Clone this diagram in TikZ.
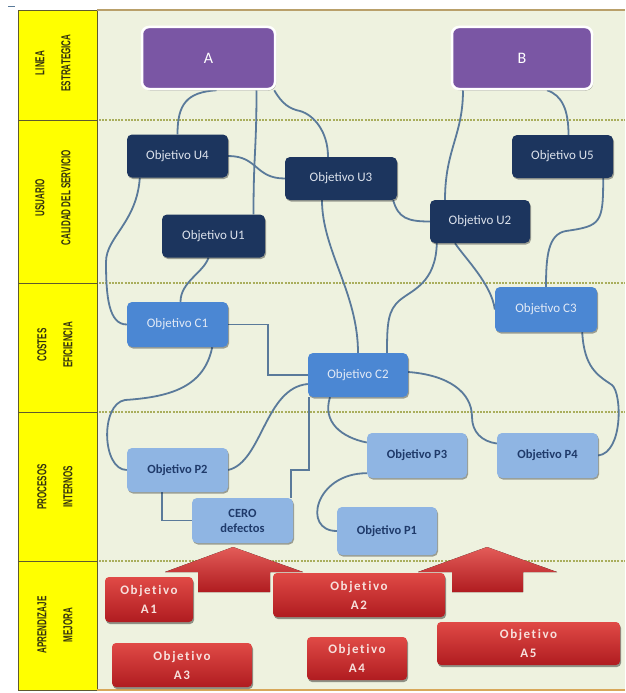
\documentclass[tikz,border=0pt]{standalone}
\usepackage{graphicx}
\usepackage{fontspec}
\setmainfont{Carlito}
\newfontfamily\lblfont{Liberation Sans}
\newfontfamily\redfont[LetterSpace=12,RawFeature=-liga]{Carlito}
\usetikzlibrary{calc,shadows}

\definecolor{mainbg}{HTML}{EEF2DF}
\definecolor{yellowc}{HTML}{FFFF00}
\definecolor{colline}{HTML}{5E5A2E}
\definecolor{dashc}{HTML}{A9AE5C}
\definecolor{topline}{HTML}{B9A06A}
\definecolor{botline}{HTML}{D8A85A}
\definecolor{linkc}{HTML}{5A7A9A}
\definecolor{purplec}{HTML}{7A56A4}
\definecolor{navy}{HTML}{1C355E}
\definecolor{navytext}{HTML}{DCE2EC}
\definecolor{midblue}{HTML}{4B87D3}
\definecolor{midtext}{HTML}{E2EAF6}
\definecolor{lightblue}{HTML}{8FB5E3}
\definecolor{ptext}{HTML}{1F3A6A}
\definecolor{redtop}{HTML}{E04A46}
\definecolor{redbot}{HTML}{B01C20}
\definecolor{redtext}{HTML}{F7E0DC}
\definecolor{lbltext}{HTML}{34330F}

\newcommand\cnd[1]{\scalebox{0.62}[1]{#1}}

\pgfdeclarelayer{background}
\pgfdeclarelayer{links}
\pgfsetlayers{background,links,main}

\begin{document}
\begin{tikzpicture}[x=1pt,y=-1pt,
  box/.style={rounded corners=5pt, minimum width=101pt, minimum height=43pt,
    inner sep=2pt, align=center, font=\fontsize{13}{15}\selectfont,
    drop shadow={shadow xshift=1pt, shadow yshift=-1.5pt, opacity=0.35, fill=black}},
  ubox/.style={box, fill=navy, text=navytext},
  cbox/.style={box, fill=midblue, text=midtext},
  pbox/.style={box, fill=lightblue, text=ptext, font=\fontsize{12.5}{15}\selectfont\bfseries},
  goalbox/.style={rounded corners=7pt, fill=purplec, draw=white, line width=2.5pt,
    minimum height=62pt, text=white, font=\fontsize{16}{18}\selectfont,
    drop shadow={shadow xshift=1pt, shadow yshift=-1.5pt, opacity=0.3, fill=black}},
  redbox/.style={rounded corners=4pt, top color=redtop, bottom color=redbot,
    minimum height=44pt, inner sep=2pt, align=center, text=redtext,
    font=\redfont\bfseries\fontsize{13}{19}\selectfont,
    drop shadow={shadow xshift=1pt, shadow yshift=-2pt, opacity=0.4, fill=black}},
  redarrow/.style={top color=redtop!90!white, bottom color=redbot},
  lbl/.style={rotate=90, align=center, text=lbltext,
    font=\lblfont\bfseries\fontsize{13}{26}\selectfont},
  link/.style={draw=linkc, line width=1.8pt},
  divider/.style={draw=dashc, line width=1.3pt, dash pattern=on 2pt off 1.2pt},
  coldiv/.style={draw=colline, line width=0.9pt}
]
\useasboundingbox (0,0) rectangle (625,693);

% ---------- backdrop: lanes and label column ----------
\begin{pgfonlayer}{background}
  \fill[white] (0,0) rectangle (625,693);
  \fill[mainbg] (97,10) rectangle (625,690);
  \fill[yellowc] (18,10) rectangle (97,690);
  \draw[coldiv] (18,10) rectangle (97,690);
  \foreach \yy in {120,283,412,561} {
    \draw[coldiv] (18,\yy) -- (97,\yy);
    \draw[divider] (99,\yy) -- (625,\yy);
  }
  \draw[topline, line width=2pt] (97,10) -- (625,10);
  \draw[botline, line width=2pt] (97,690) -- (625,690);
  \draw[linkc, line width=1pt] (8,7) -- (15,7);
\end{pgfonlayer}

% ---------- lane titles ----------
\node[lbl] (lbl1) at (53,63)  {\cnd{LINEA}\\\cnd{ESTRATEGICA}};
\node[lbl] (lbl2) at (53,198) {\cnd{USUARIO}\\\cnd{CALIDAD DEL SERVICIO}};
\node[lbl] (lbl3) at (55,345) {\cnd{COSTES}\\\cnd{EFICIENCIA}};
\node[lbl] (lbl4) at (55,487) {\cnd{PROCESOS}\\\cnd{INTERNOS}};
\node[lbl] (lbl5) at (55,625) {\cnd{APRENDIZAJE}\\\cnd{MEJORA}};

% ---------- strategic lines ----------
\node[goalbox, minimum width=133pt] (A) at (208.5,58) {A};
\node[goalbox, minimum width=140pt] (B) at (522,58) {B};

% ---------- user / service quality ----------
\node[ubox] (U4) at (177.5,156) {Objetivo U4};
\node[ubox, minimum width=112pt] (U3) at (341,178.5) {Objetivo U3};
\node[ubox, minimum width=103pt] (U1) at (213.5,236) {Objetivo U1};
\node[ubox, minimum width=100pt] (U2) at (480,221.5) {Objetivo U2};
\node[ubox] (U5) at (562.5,156.5) {Objetivo U5};

% ---------- costs / efficiency ----------
\node[cbox, minimum height=45pt] (C1) at (177.5,324.5) {Objetivo C1};
\node[cbox, minimum width=100pt, minimum height=44pt] (C2) at (358,375) {Objetivo C2};
\node[cbox, minimum width=102pt, minimum height=45pt] (C3) at (546,309.5) {Objetivo C3};

% ---------- internal processes ----------
\node[pbox, minimum height=44pt] (P2) at (177.5,470) {Objetivo P2};
\node[pbox, minimum height=45pt] (CERO) at (242.5,520.5) {CERO\\defectos};
\node[pbox, minimum width=100pt, minimum height=45pt] (P3) at (417,455.5) {Objetivo P3};
\node[pbox, minimum height=45pt] (P4) at (547.5,455.5) {Objetivo P4};
\node[pbox, minimum width=100pt, minimum height=48pt] (P1) at (387,531) {Objetivo P1};

% ---------- learning: upward arrows and goals ----------
\fill[redarrow] (165,572) -- (233,547) -- (303,572) -- (270,572) -- (270,592)
  -- (198,592) -- (198,572) -- cycle;
\fill[redarrow] (418,572) -- (487,547) -- (557,572) -- (523,572) -- (523,592)
  -- (452,592) -- (452,572) -- cycle;

\node[redbox, minimum width=88pt, minimum height=45pt] (A1) at (149,599.5) {Objetivo\\A1};
\node[redbox, minimum width=172pt] (A2) at (359,595) {Objetivo\\A2};
\node[redbox, minimum width=140pt] (A3) at (182,665) {Objetivo\\A3};
\node[redbox, minimum width=100pt, minimum height=43pt] (A4) at (357,658.5) {Objetivo\\A4};
\node[redbox, minimum width=183pt, minimum height=43pt] (A5) at (528.5,643.5) {Objetivo\\A5};

% ---------- connectors ----------
\begin{pgfonlayer}{links}
\begin{scope}[link]
  % from the strategic lines
  \draw ($(A.south)+(8,0)$) .. controls +(-30,2) and +(0,-30) .. (U4.north);
  \draw ($(A.south)+(48,0)$) .. controls +(0,60) and +(0,-60) .. ($(U1.north)+(40,0)$);
  \draw ($(A.south east)+(-2,0)$) .. controls +(8,14) and +(-10,-2) .. (300,111)
        .. controls +(14,4) and +(0,-25) .. ($(U3.north)+(-13,0)$);
  \draw ($(B.south)+(-59,0)$) .. controls +(0,45) and +(0,-50) .. ($(U2.north)+(-35,0)$);
  \draw ($(B.south)+(25,0)$) .. controls +(15,5) and +(0,-25) .. ($(U5.north)+(6,0)$);

  % user lane
  \draw (U4.east) .. controls +(30,0) and +(-30,0) .. (U3.west);
  \draw ($(U3.south east)+(-4,0)$) .. controls +(5,18) and +(-22,0) .. (U2.west);
  \draw ($(U4.south west)+(13,0)$) .. controls +(-3,45) and +(0,-25) .. (106,262)
        .. controls +(0,35) and +(-18,0) .. (C1.west);
  \draw ($(U1.south)+(-5,0)$) .. controls +(-5,15) and +(0,-20) .. ($(C1.north)+(3,0)$);
  \draw ($(U3.south)+(-19,0)$) .. controls +(0,50) and +(0,-60) .. (C2.north);
  \draw ($(U2.south west)+(7,0)$) .. controls +(-1,40) and +(12,-10) .. (400,300)
        .. controls +(-12,10) and +(0,-30) .. ($(C2.north)+(29,0)$);
  \draw ($(U2.south)+(-25,0)$) .. controls +(10,15) and +(-3,-25) .. (C3.west);
  \draw ($(U5.south east)+(-10,0)$) .. controls +(0,45) and +(35,-5) .. (566,231)
        .. controls +(-18,3) and +(0,-30) .. (C3.north);

  % cost lane
  \draw (C1.east) -- ++(40,0) |- (C2.west);
  \draw ($(C1.south east)+(-16,0)$) .. controls +(-8,40) and +(45,-3) .. (125,400)
        .. controls +(-25,4) and +(-25,0) .. (P2.west);
  \draw ($(C2.west)+(0,9)$) .. controls +(-43,4) and +(34,-8) .. (P2.east);
  \draw ($(C2.south west)+(1,0)$) -- ++(0,73) -| ($(CERO.north east)+(-2,0)$);
  \draw ($(C2.south)+(-28,0)$) .. controls +(-8,25) and +(-25,-5) .. ($(P3.west)+(0,-13)$);
  \draw ($(C2.east)+(0,-3)$) .. controls +(40,3) and +(0,-25) .. (472,417)
        .. controls +(0,15) and +(-15,-2) .. ($(P4.west)+(0,-12)$);
  \draw ($(C3.south east)+(-15,0)$) .. controls +(2,35) and +(-15,-10) .. (612,385)
        .. controls +(10,8) and +(25,-3) .. (P4.east);

  % process lane
  \draw ($(P3.south west)+(0,-5)$) .. controls +(-52,0) and +(-35,0) .. (P1.west);
  \draw ($(P2.south west)+(35,0)$) |- (CERO.west);
\end{scope}
\end{pgfonlayer}
\end{tikzpicture}
\end{document}
